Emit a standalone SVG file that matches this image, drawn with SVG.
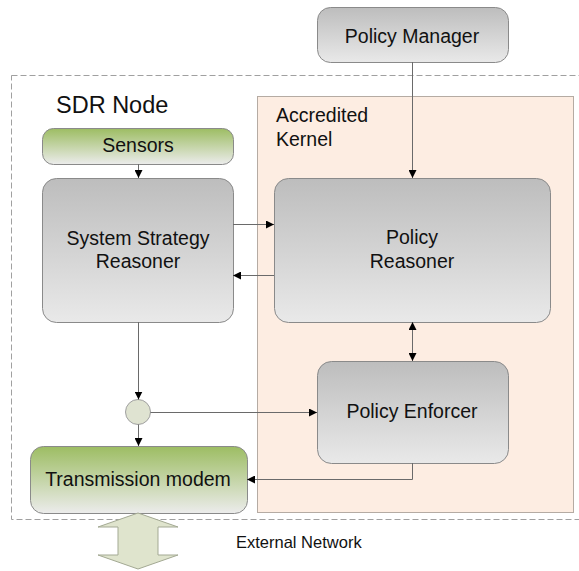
<svg xmlns="http://www.w3.org/2000/svg" width="579" height="571" viewBox="0 0 579 571">
  <defs>
    <linearGradient id="gray" x1="0" y1="0" x2="0" y2="1">
      <stop offset="0" stop-color="#bdbdbd"/>
      <stop offset="1" stop-color="#e9e9e9"/>
    </linearGradient>
    <linearGradient id="green" x1="0" y1="0" x2="0" y2="1">
      <stop offset="0" stop-color="#9dbd63"/>
      <stop offset="1" stop-color="#ececec"/>
    </linearGradient>
    <marker id="arr" viewBox="0 0 10 10" refX="10" refY="5" markerWidth="8" markerHeight="8" markerUnits="userSpaceOnUse" orient="auto-start-reverse">
      <path d="M0,0 L10,5 L0,10 z" fill="#000"/>
    </marker>
  </defs>
  <style>
    .box { stroke: #8a8a8a; stroke-width: 1; }
    .lbl { font-family: "Liberation Sans", Arial, sans-serif; font-size: 19.5px; fill: #111; text-anchor: middle; }
    .txt { font-family: "Liberation Sans", Arial, sans-serif; fill: #111; }
    .conn { stroke: #6a6a6a; stroke-width: 1; fill: none; }
  </style>

  <rect width="579" height="571" fill="#fff"/>

  <!-- SDR node boundary -->
  <rect x="11.5" y="75.5" width="580" height="444" fill="none" stroke="#a0a0a0" stroke-dasharray="6,3"/>
  <text class="txt" x="56" y="113" font-size="23.5">SDR Node</text>

  <!-- Accredited kernel area -->
  <g id="kernel">
    <rect x="257.5" y="96.5" width="316" height="416" fill="#fdede2" stroke="#b5aba3"/>
    <text class="txt" x="276" y="122" font-size="19.5">Accredited</text>
    <text class="txt" x="276" y="146" font-size="19.5">Kernel</text>
  </g>

  <g id="policy-manager">
    <rect class="box" x="317.5" y="7.5" width="191" height="55" rx="13" fill="url(#gray)"/>
    <text class="lbl" x="412" y="43">Policy Manager</text>
  </g>

  <g id="sensors">
    <rect class="box" x="42.5" y="128.5" width="191" height="36" rx="11" fill="url(#green)"/>
    <text class="lbl" x="138" y="152">Sensors</text>
  </g>

  <g id="system-strategy-reasoner">
    <rect class="box" x="42.5" y="178.5" width="191" height="144" rx="14" fill="url(#gray)"/>
    <text class="lbl" x="138" y="245">System Strategy</text>
    <text class="lbl" x="138" y="268">Reasoner</text>
  </g>

  <g id="policy-reasoner">
    <rect class="box" x="274.5" y="178.5" width="276" height="144" rx="14" fill="url(#gray)"/>
    <text class="lbl" x="412" y="244">Policy</text>
    <text class="lbl" x="412" y="268">Reasoner</text>
  </g>

  <g id="policy-enforcer">
    <rect class="box" x="317.5" y="361.5" width="191" height="102" rx="14" fill="url(#gray)"/>
    <text class="lbl" x="412" y="418">Policy Enforcer</text>
  </g>

  <g id="junction">
    <circle cx="138" cy="412" r="12.5" fill="#dfe3d1" stroke="#a0a0a0"/>
  </g>

  <g id="transmission-modem">
    <rect class="box" x="30.5" y="446.5" width="217" height="67" rx="13" fill="url(#green)"/>
    <text class="lbl" x="138" y="486">Transmission modem</text>
  </g>

  <g id="external-network">
    <path d="M138,513 L178,527 L158,527 L158,555 L178,555 L138,569 L98,555 L118,555 L118,527 L98,527 Z" fill="#dfe4cd" stroke="#a3a993"/>
    <text class="txt" x="236" y="548" font-size="16.5">External Network</text>
  </g>

  <g id="connectors">
    <line class="conn" x1="412.5" y1="62" x2="412.5" y2="178" marker-end="url(#arr)"/>
    <line class="conn" x1="138.5" y1="164" x2="138.5" y2="178" marker-end="url(#arr)"/>
    <line class="conn" x1="233" y1="224.5" x2="274" y2="224.5" marker-end="url(#arr)"/>
    <line class="conn" x1="274" y1="275.5" x2="233" y2="275.5" marker-end="url(#arr)"/>
    <line class="conn" x1="412.5" y1="322" x2="412.5" y2="361" marker-start="url(#arr)" marker-end="url(#arr)"/>
    <line class="conn" x1="138.5" y1="322" x2="138.5" y2="399.5" marker-end="url(#arr)" stroke="#a8a8a8"/>
    <line class="conn" x1="150.5" y1="412.5" x2="317" y2="412.5" marker-end="url(#arr)"/>
    <line class="conn" x1="138.5" y1="424.5" x2="138.5" y2="446" marker-end="url(#arr)"/>
    <polyline class="conn" points="412.5,463 412.5,479.5 247,479.5" marker-end="url(#arr)"/>
  </g>
</svg>
